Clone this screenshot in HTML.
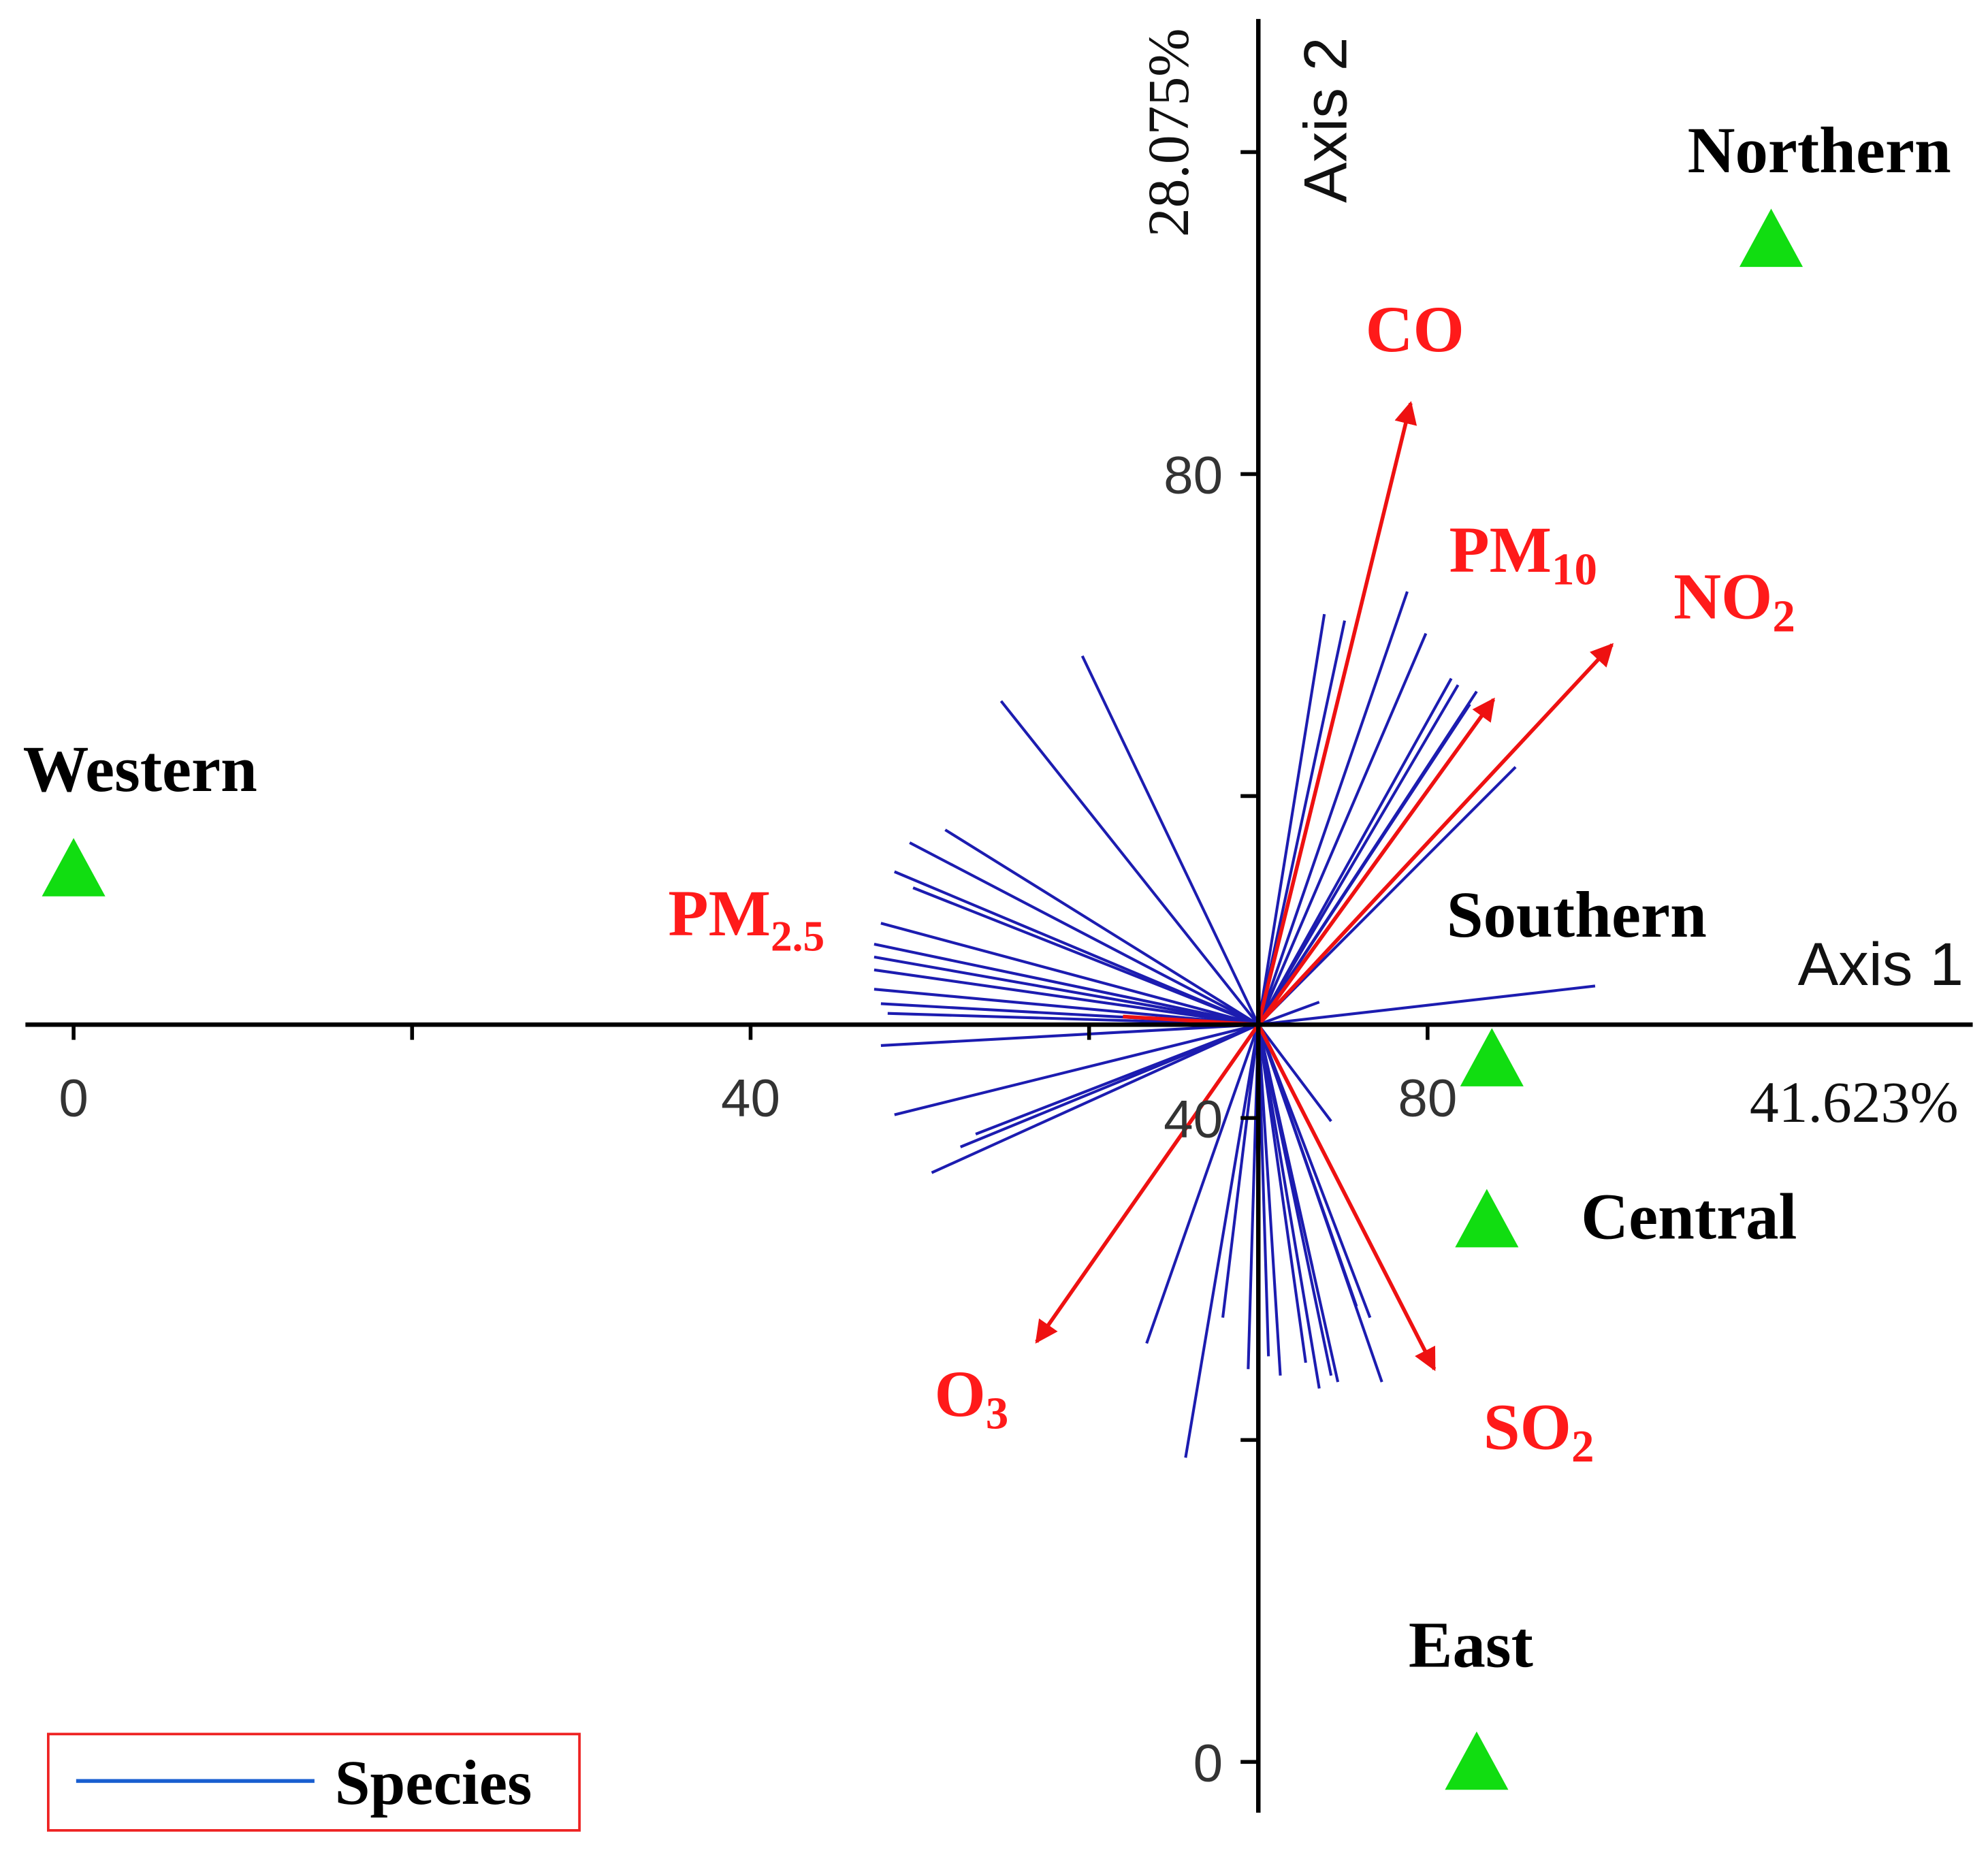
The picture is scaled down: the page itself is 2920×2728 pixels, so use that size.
<!DOCTYPE html>
<html><head><meta charset="utf-8"><style>
html,body{margin:0;padding:0;background:#fff;}
svg{display:block;}
.b{font-family:"Liberation Serif",serif;font-weight:bold;}
.r{fill:#ff1a1a;}
.t{font-family:"Liberation Sans",sans-serif;fill:#333;font-size:42px;}
</style></head><body>
<svg id="chart" width="2920" height="2728" viewBox="0 0 1568 1465">
<defs>
<marker id="ah" viewBox="0 0 10 10" refX="9" refY="5" markerWidth="18" markerHeight="18" orient="auto" markerUnits="userSpaceOnUse">
<path d="M0,0 L10,5 L0,10 Z" fill="#ee1111"/>
</marker>
</defs>
<g id="species"></g>
<g id="env"></g>
<g id="axes"></g>
<g id="sites"></g>
<g id="labels">
<text class="b" x="18" y="624" font-size="52">Western</text>
<text class="b" x="1331" y="136" font-size="52">Northern</text>
<text class="b" x="1141" y="739" font-size="52">Southern</text>
<text class="b" x="1247" y="977" font-size="52">Central</text>
<text class="b" x="1111" y="1315" font-size="52">East</text>
<text class="b r" x="1077" y="277" font-size="52">CO</text>
<text class="b r" x="1143" y="451" font-size="52">PM<tspan font-size="36" dy="10">10</tspan></text>
<text class="b r" x="1320" y="488" font-size="52">NO<tspan font-size="36" dy="10">2</tspan></text>
<text class="b r" x="527" y="738" font-size="52">PM<tspan font-size="34" dy="12">2.5</tspan></text>
<text class="b r" x="737" y="1117" font-size="52">O<tspan font-size="36" dy="10">3</tspan></text>
<text class="b r" x="1170" y="1143" font-size="52">SO<tspan font-size="36" dy="10">2</tspan></text>
<text x="1418" y="777" font-family="Liberation Sans,sans-serif" font-size="48" fill="#111">Axis 1</text>
<text x="1380" y="885" font-family="Liberation Serif,serif" font-size="46" fill="#111">41.623%</text>
<text transform="translate(1062,160) rotate(-90)" font-family="Liberation Sans,sans-serif" font-size="48" fill="#111">Axis 2</text>
<text transform="translate(937,187) rotate(-90)" font-family="Liberation Serif,serif" font-size="46" fill="#111">28.075%</text>
</g>
<g>
<rect x="38" y="1368" width="419" height="76" fill="#fff" stroke="#ee2222" stroke-width="2"/>
<line x1="60" y1="1405" x2="248" y2="1405" stroke="#1a5fd0" stroke-width="3"/>
<text class="b" x="264" y="1423" font-size="50">Species</text>
</g>
</svg>
<script>
var xTicks=[0,20,40,60,80];
var xTickLabels=["0","","40","","80"];
var yTicks=[0,20,40,60,80,100];
var yTickLabels=["0","","40","","80",""];
var origin=[70,45.8];
var speciesX=[59.6,54.8,51.5,49.4,48.5,49.6,47.7,47.3,47.3,47.3,47.3,47.7,48.1,47.7,48.5,50.7,52.4,53.3,73.9,75.1,78.8,79.9,81.4,81.8,82.9,82.5,85.2,89.9,73.6,74.3,77.3,76.6,75.8,74.7,74.3,73.6,72.8,71.3,70.6,69.4,67.9,65.7,63.4,73.2];
var speciesY=[68.7,65.9,57.9,57.1,55.3,54.3,52.1,50.8,50.0,49.2,48.0,47.1,46.5,44.5,40.2,36.6,38.2,39.0,71.3,70.9,72.7,70.1,67.3,66.9,66.5,65.7,61.8,48.2,47.2,39.8,23.6,27.6,28.3,23.6,24.0,23.2,24.8,24.0,25.2,24.4,27.6,18.9,26.0,30.7];
var envNames=["CO","PM10","NO2","SO2","O3","PM2.5"];
var envX=[79.0,83.9,90.9,80.4,56.9,62.0];
var envY=[84.4,66.0,69.4,24.4,26.1,46.3];
var siteNames=["Western","Northern","Southern","Central","East"];
var siteX=[0,100.3,83.8,83.5,82.9];
var siteY=[55.5,94.6,43.7,33.7,0];

function sx(v){return 58+v*13.35;}
function sy(v){return 1390-v*12.7;}
var NS="http://www.w3.org/2000/svg";
function mk(tag,attrs,parent){var e=document.createElementNS(NS,tag);for(var k in attrs)e.setAttribute(k,attrs[k]);parent.appendChild(e);return e;}
var ox=sx(origin[0]),oy=sy(origin[1]);
var sp=document.getElementById('species');
for(var i=0;i<speciesX.length;i++){
  var l=mk('line',{x1:ox,y1:oy,x2:sx(speciesX[i]),y2:sy(speciesY[i]),stroke:'#1c1cb0','stroke-width':2.2},sp);
  
  
}
var env=document.getElementById('env');
for(var j=0;j<envX.length;j++){
  var a=mk('line',{x1:ox,y1:oy,x2:sx(envX[j]),y2:sy(envY[j]),stroke:'#ee1111','stroke-width':3},env);
  if(envNames[j]!=="PM2.5")a.setAttribute('marker-end','url(#ah)');
  
  
}
var ax=document.getElementById('axes');
var xl=mk('line',{x1:20,y1:oy,x2:1556,y2:oy,stroke:'#000','stroke-width':3.5},ax);


var yl=mk('line',{x1:ox,y1:15,x2:ox,y2:1430,stroke:'#000','stroke-width':3.5},ax);


for(var t=0;t<xTicks.length;t++){
  var tk=mk('line',{x1:sx(xTicks[t]),y1:oy,x2:sx(xTicks[t]),y2:oy+12,stroke:'#000','stroke-width':3},ax);
  
  
  if(xTickLabels[t]){
    var tx=mk('text',{x:sx(xTicks[t]),y:oy+72,'text-anchor':'middle','class':'t'},ax);
    tx.textContent=xTickLabels[t];
    
    
  }
}
for(var u=0;u<yTicks.length;u++){
  var tk2=mk('line',{x1:ox-14,y1:sy(yTicks[u]),x2:ox,y2:sy(yTicks[u]),stroke:'#000','stroke-width':3},ax);
  
  
  if(yTickLabels[u]){
    var ty=mk('text',{x:ox-28,y:sy(yTicks[u])+15,'text-anchor':'end','class':'t'},ax);
    ty.textContent=yTickLabels[u];
    
    
  }
}
var st=document.getElementById('sites');
for(var s=0;s<siteX.length;s++){
  var cx=sx(siteX[s]),cy=sy(siteY[s]);
  var p=mk('polygon',{points:(cx)+','+(cy-24)+' '+(cx-25)+','+(cy+22)+' '+(cx+25)+','+(cy+22),fill:'#11dd11'},st);
  
  
}
</script>
</body></html>
